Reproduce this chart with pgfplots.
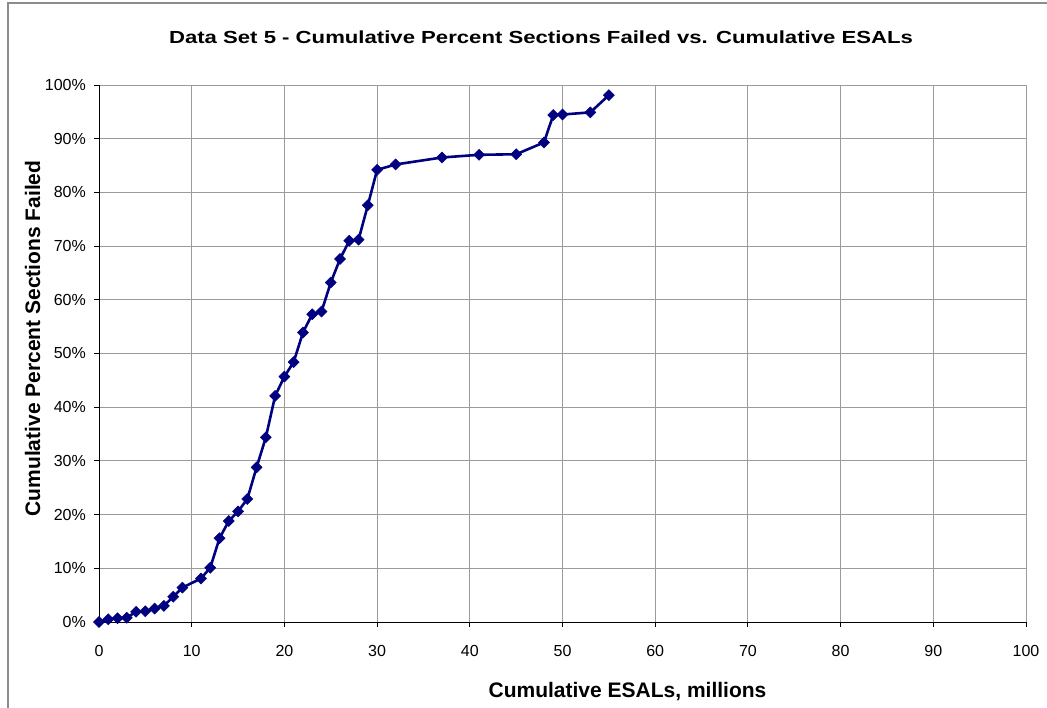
\documentclass[border=0pt]{standalone}
\usepackage{pgfplots}
\pgfplotsset{compat=1.18}
\usepackage{fontspec}
\setmainfont{Liberation Sans}
\definecolor{navy}{RGB}{0,0,128}
\definecolor{gridc}{RGB}{155,155,155}
\definecolor{framec}{RGB}{140,140,140}
\begin{document}
\begin{tikzpicture}[x=1bp,y=1bp]
\path[use as bounding box] (0,0) rectangle (1047,708);
\draw[framec, line width=2bp] (8,0) -- (8,705) -- (1047,705);
\begin{axis}[
  at={(99bp,86bp)}, anchor=south west,
  scale only axis, width=927bp, height=537bp,
  xmin=0, xmax=100, ymin=0, ymax=100,
  xtick={0,10,...,100}, ytick={0,10,...,100},
  axis x line*=bottom, axis y line*=left,
  axis line style={black, line width=0.9bp, -},
  grid=major, major grid style={gridc, line width=0.9bp},
  tick align=outside, major tick length=5bp,
  tick style={black, line width=0.9bp},
  /pgf/number format/assume math mode=true,
  ticklabel style={font=\fontsize{16bp}{19bp}\selectfont, inner sep=0pt},
  yticklabel={\pgfmathprintnumber{\tick}\%},
  xticklabel style={anchor=north, yshift=-18bp},
  yticklabel style={anchor=east, xshift=-8bp},
  clip=false,
]
\addplot[navy, line width=2.6bp, mark=square*, mark size=3.9bp,
  mark options={rotate=45, fill=navy, draw=navy, line width=0.5bp}] coordinates {
(0,0) (1,0.5) (2,0.7) (3,0.8) (4,1.9) (5,2.0) (6,2.5) (7,3.0) (8,4.7) (9,6.4)
(11,8.1) (12,10.1) (13,15.6) (14,18.8) (15,20.6) (16,22.9) (17,28.8) (18,34.4)
(19,42.1) (20,45.7) (21,48.4) (22,53.9) (23,57.3) (24,57.8) (25,63.2) (26,67.6)
(27,71.0) (28,71.2) (29,77.6) (30,84.2) (32,85.2) (37,86.5) (41,87.0) (45,87.1)
(48,89.3) (49,94.4) (50,94.5) (53,94.9) (55,98.1)
};
\end{axis}
\node[anchor=base, inner sep=0pt] at (541,664.7)
  {\scalebox{1.265}[1]{\fontsize{17.5bp}{20bp}\selectfont\bfseries Data Set 5 - Cumulative Percent Sections Failed vs. Cumulative ESALs}};
\node[anchor=base, inner sep=0pt] at (627.5,10)
  {\fontsize{21bp}{24bp}\selectfont\bfseries Cumulative ESALs, millions};
\node[anchor=base, inner sep=0pt, rotate=90] at (40,369.5)
  {\fontsize{21bp}{24bp}\selectfont\bfseries Cumulative Percent Sections Failed};
\end{tikzpicture}
\end{document}
